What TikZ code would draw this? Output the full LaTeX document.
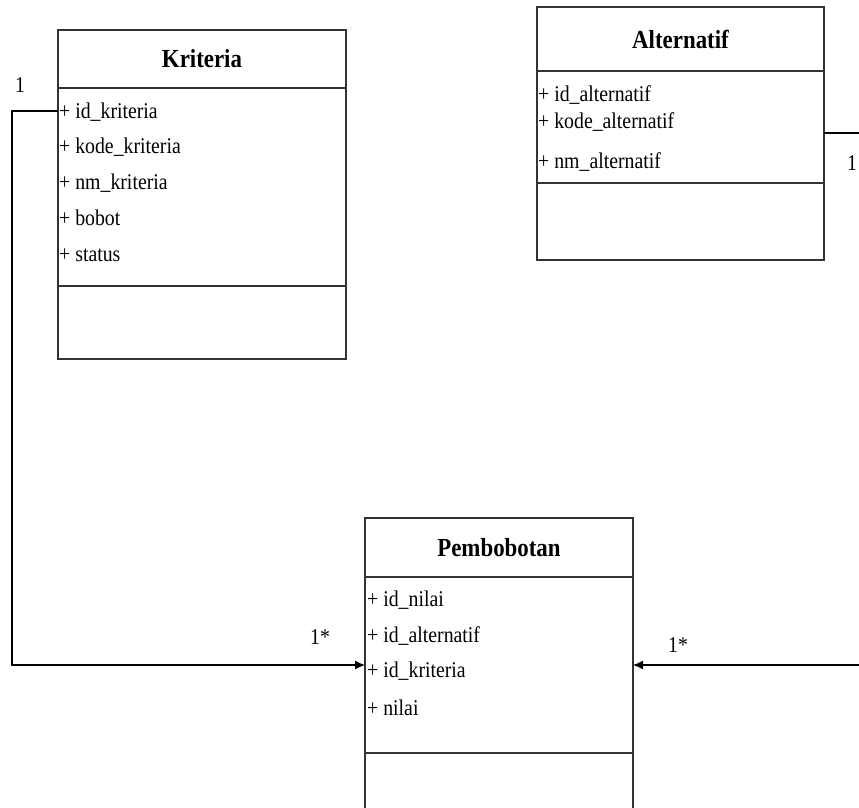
\documentclass[tikz,border=0pt]{standalone}
\usepackage{fontspec}
\setmainfont{Liberation Serif}[FakeStretch=0.88]
\usetikzlibrary{arrows.meta,positioning}

\tikzset{
  classhead/.style={draw=black!80, line width=1.2pt, outer sep=0pt, anchor=north west,
    font=\fontsize{26}{30}\selectfont\bfseries},
  classbody/.style={draw=black!80, line width=1.2pt, outer sep=0pt},
  attr/.style={anchor=west, inner sep=1pt, font=\fontsize{22.5}{26}\selectfont},
  mult/.style={inner sep=1pt, font=\fontsize{22.5}{26}\selectfont},
  assoc/.style={line width=1.2pt, -{Latex[length=10pt,width=9pt]}}
}

\begin{document}
\begin{tikzpicture}[x=1pt,y=1pt,yscale=-1]
\useasboundingbox (0,0) rectangle (859,807);
\clip (0,0) rectangle (859,807);

% Kriteria
\node[classhead, minimum width=288pt, minimum height=58pt] (kriteria) at (58,30) {Kriteria};
\node[classbody, minimum width=288pt, minimum height=198pt, below=0pt of kriteria] (kriteriaAttr) {};
\node[classbody, minimum width=288pt, minimum height=73pt, below=0pt of kriteriaAttr] (kriteriaOps) {};
\node[attr] (kIdKriteria) at (58,112) {+ id\_kriteria};
\node[attr] (kKode) at (58,147) {+ kode\_kriteria};
\node[attr] (kNama) at (58,183) {+ nm\_kriteria};
\node[attr] (kBobot) at (58,218) {+ bobot};
\node[attr] (kStatus) at (58,255) {+ status};

% Alternatif
\node[classhead, minimum width=287pt, minimum height=64pt] (alternatif) at (537,7) {Alternatif};
\node[classbody, minimum width=287pt, minimum height=112pt, below=0pt of alternatif] (alternatifAttr) {};
\node[classbody, minimum width=287pt, minimum height=77pt, below=0pt of alternatifAttr] (alternatifOps) {};
\node[attr] (aId) at (537,95) {+ id\_alternatif};
\node[attr] (aKode) at (537,122) {+ kode\_alternatif};
\node[attr] (aNama) at (537,162) {+ nm\_alternatif};

% Pembobotan
\node[classhead, minimum width=268pt, minimum height=59pt] (pembobotan) at (365,518) {Pembobotan};
\node[classbody, minimum width=268pt, minimum height=176pt, below=0pt of pembobotan] (pembobotanAttr) {};
\node[classbody, minimum width=268pt, minimum height=90pt, below=0pt of pembobotanAttr] (pembobotanOps) {};
\node[attr] (pIdNilai) at (366,600) {+ id\_nilai};
\node[attr] (pIdAlternatif) at (366,636) {+ id\_alternatif};
\node[attr] (pIdKriteria) at (366,671) {+ id\_kriteria};
\node[attr] (pNilai) at (366,708) {+ nilai};

% associations
\coordinate (kLeft) at (12,111);
\coordinate (aFar) at (880,133);
\draw[assoc] (kriteriaAttr.west |- kLeft) -- (kLeft) |- (pembobotanAttr.west);
\draw[assoc] (alternatifAttr.east |- aFar) -- (aFar) |- (pembobotanAttr.east);

% multiplicities
\node[mult] (mKriteria) at (20,85) {1};
\node[mult] (mAlternatif) at (852,163) {1};
\node[mult] (mPemKiri) at (320,637) {1*};
\node[mult] (mPemKanan) at (678,645) {1*};

\end{tikzpicture}
\end{document}
